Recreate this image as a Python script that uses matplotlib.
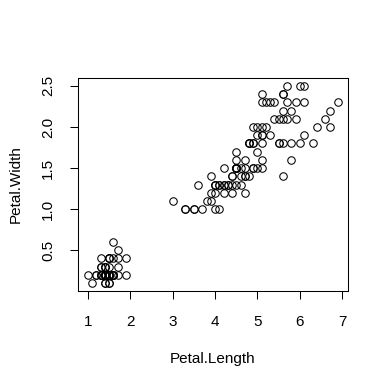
import matplotlib
matplotlib.use("Agg")
import matplotlib.pyplot as plt

# iris petal measurements
petal_length = [1.4, 1.4, 1.3, 1.5, 1.4, 1.7, 1.4, 1.5, 1.4, 1.5, 1.5, 1.6, 1.4, 1.1, 1.2, 1.5, 1.3, 1.4, 1.7, 1.5,
                1.7, 1.5, 1.0, 1.7, 1.9, 1.6, 1.6, 1.5, 1.4, 1.6, 1.6, 1.5, 1.5, 1.4, 1.5, 1.2, 1.3, 1.4, 1.3, 1.5,
                1.3, 1.3, 1.3, 1.6, 1.9, 1.4, 1.6, 1.4, 1.5, 1.4,
                4.7, 4.5, 4.9, 4.0, 4.6, 4.5, 4.7, 3.3, 4.6, 3.9, 3.5, 4.2, 4.0, 4.7, 3.6, 4.4, 4.5, 4.1, 4.5, 3.9,
                4.8, 4.0, 4.9, 4.7, 4.3, 4.4, 4.8, 5.0, 4.5, 3.5, 3.8, 3.7, 3.9, 5.1, 4.5, 4.5, 4.7, 4.4, 4.1, 4.0,
                4.4, 4.6, 4.0, 3.3, 4.2, 4.2, 4.2, 4.3, 3.0, 4.1,
                6.0, 5.1, 5.9, 5.6, 5.8, 6.6, 4.5, 6.3, 5.8, 6.1, 5.1, 5.3, 5.5, 5.0, 5.1, 5.3, 5.5, 6.7, 6.9, 5.0,
                5.7, 4.9, 6.7, 4.9, 5.7, 6.0, 4.8, 4.9, 5.6, 5.8, 6.1, 6.4, 5.6, 5.1, 5.6, 6.1, 5.6, 5.5, 4.8, 5.4,
                5.6, 5.1, 5.1, 5.9, 5.7, 5.2, 5.0, 5.2, 5.4, 5.1]
petal_width = [0.2, 0.2, 0.2, 0.2, 0.2, 0.4, 0.3, 0.2, 0.2, 0.1, 0.2, 0.2, 0.1, 0.1, 0.2, 0.4, 0.4, 0.3, 0.3, 0.3,
               0.2, 0.4, 0.2, 0.5, 0.2, 0.2, 0.4, 0.2, 0.2, 0.2, 0.2, 0.4, 0.1, 0.2, 0.2, 0.2, 0.2, 0.1, 0.2, 0.2,
               0.3, 0.3, 0.2, 0.6, 0.4, 0.3, 0.2, 0.2, 0.2, 0.2,
               1.4, 1.5, 1.5, 1.3, 1.5, 1.3, 1.6, 1.0, 1.3, 1.4, 1.0, 1.5, 1.0, 1.4, 1.3, 1.4, 1.5, 1.0, 1.5, 1.1,
               1.8, 1.3, 1.5, 1.2, 1.3, 1.4, 1.4, 1.7, 1.5, 1.0, 1.1, 1.0, 1.2, 1.6, 1.5, 1.6, 1.5, 1.3, 1.3, 1.3,
               1.2, 1.4, 1.2, 1.0, 1.3, 1.2, 1.3, 1.3, 1.1, 1.3,
               2.5, 1.9, 2.1, 1.8, 2.2, 2.1, 1.7, 1.8, 1.8, 2.5, 2.0, 1.9, 2.1, 2.0, 2.4, 2.3, 1.8, 2.2, 2.3, 1.5,
               2.3, 2.0, 2.0, 1.8, 2.1, 1.8, 1.8, 1.8, 2.1, 1.6, 1.9, 2.0, 2.2, 1.5, 1.4, 2.3, 2.4, 1.8, 1.8, 2.1,
               2.4, 2.3, 1.9, 2.3, 2.5, 2.3, 1.9, 2.0, 2.3, 1.8]

x_ticks = [1, 2, 3, 4, 5, 6, 7]
y_ticks = [0.5, 1.0, 1.5, 2.0, 2.5]

plt.rcParams['font.family'] = ['Liberation Sans', 'DejaVu Sans']

fig = plt.figure(figsize=(3.89, 3.89), dpi=100)
ax = fig.add_axes([78/389, 1 - 291/389, 270/389, 213/389])

ax.plot(petal_length, petal_width, 'o', mfc='none', mec='black', ms=5.4, mew=0.75)

# R style 4% padding
xr = max(petal_length) - min(petal_length)
yr = max(petal_width) - min(petal_width)
ax.set_xlim(min(petal_length) - 0.04*xr, max(petal_length) + 0.04*xr)
ax.set_ylim(min(petal_width) - 0.04*yr, max(petal_width) + 0.04*yr)

ax.set_xticks(x_ticks)
ax.set_xticklabels([str(t) for t in x_ticks])
ax.set_yticks(y_ticks)
ax.set_yticklabels(["%.1f" % t for t in y_ticks], rotation=90, va='center')
ax.tick_params(direction='out', length=5.5, width=0.75, labelsize=11)
ax.tick_params(axis='x', pad=12)
ax.tick_params(axis='y', pad=11)
for s in ax.spines.values():
    s.set_linewidth(0.75)

ax.set_xlabel("Petal.Length", fontsize=11, labelpad=16)
ax.set_ylabel("Petal.Width", fontsize=11, labelpad=13)

fig.savefig("out.png", dpi=100)
